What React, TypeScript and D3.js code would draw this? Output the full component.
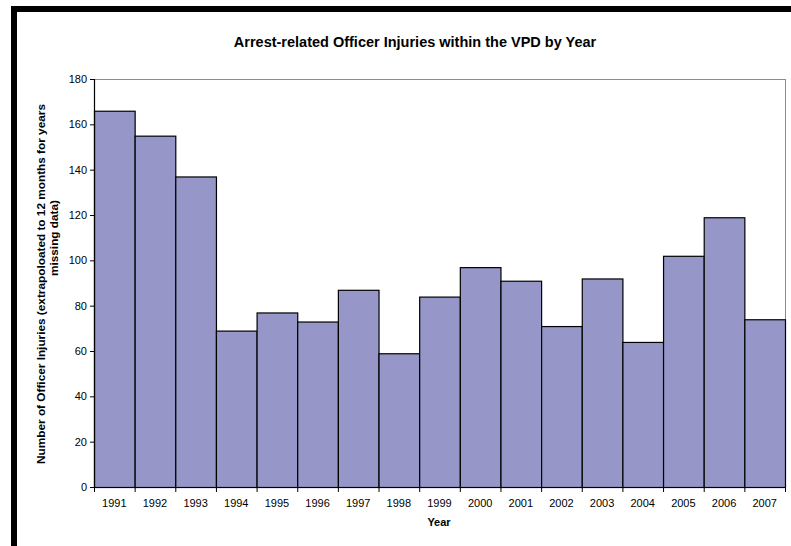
import React from "react";
import * as d3 from "d3";

const years: string[] = ["1991","1992","1993","1994","1995","1996","1997","1998","1999","2000","2001","2002","2003","2004","2005","2006","2007"];
const injuries: number[] = [166,155,137,69,77,73,87,59,84,97,91,71,92,64,102,119,74];
const yTicks: number[] = [0,20,40,60,80,100,120,140,160,180];

const W = 791, H = 546;
const M = { left: 94, right: 785, top: 79, bottom: 487 };
const FONT = "'Liberation Sans', Arial, sans-serif";

export default function App() {
  const x = d3.scaleBand<string>().domain(years).range([M.left, M.right]).padding(0);
  const y = d3.scaleLinear().domain([0, 180]).range([M.bottom, M.top]);
  const bw = x.bandwidth();
  const boundaries = years.map((yr) => x(yr) as number).concat([M.right]);

  return (
    <svg width={W} height={H} style={{ position: "absolute", left: 0, top: 0, display: "block", background: "#fff" }}>
      {/* outer black frame (top and left only) */}
      <rect x={11} y={6} width={W - 11} height={6} fill="#000" />
      <rect x={11} y={6} width={6} height={H - 6} fill="#000" />

      <text x={415} y={47} textAnchor="middle" fontFamily={FONT} fontWeight="bold" fontSize={14.5} fill="#000">
        Arrest-related Officer Injuries within the VPD by Year
      </text>

      {/* plot frame top/right */}
      <line x1={M.left} x2={M.right} y1={M.top + 0.5} y2={M.top + 0.5} stroke="#8c8c8c" strokeWidth={1} />
      <line x1={M.right + 0.5} x2={M.right + 0.5} y1={M.top} y2={M.bottom} stroke="#8c8c8c" strokeWidth={1} />

      {/* bars */}
      {years.map((yr, i) => (
        <rect
          key={yr}
          x={(x(yr) as number) + 0.5}
          y={y(injuries[i]) + 0.5}
          width={bw}
          height={M.bottom - y(injuries[i])}
          fill="#9696C8"
          stroke="#000"
          strokeWidth={1.2}
        />
      ))}

      {/* y axis */}
      <line x1={M.left + 0.5} x2={M.left + 0.5} y1={M.top} y2={M.bottom} stroke="#000" strokeWidth={1.2} />
      {yTicks.map((t) => (
        <g key={t}>
          <line x1={M.left - 4} x2={M.left} y1={y(t) + 0.5} y2={y(t) + 0.5} stroke="#000" />
          <text x={M.left - 7} y={y(t) + 4} textAnchor="end" fontFamily={FONT} fontSize={11} fill="#000">
            {t}
          </text>
        </g>
      ))}

      {/* x axis */}
      <line x1={M.left} x2={M.right + 1} y1={M.bottom + 0.5} y2={M.bottom + 0.5} stroke="#000" strokeWidth={1.2} />
      {boundaries.map((bx, i) => (
        <line key={i} x1={bx + 0.5} x2={bx + 0.5} y1={M.bottom} y2={M.bottom + 5} stroke="#000" />
      ))}
      {years.map((yr) => (
        <text key={yr} x={(x(yr) as number) + bw / 2} y={507} textAnchor="middle" fontFamily={FONT} fontSize={11} fill="#000">
          {yr}
        </text>
      ))}

      <text x={439} y={526} textAnchor="middle" fontFamily={FONT} fontWeight="bold" fontSize={11} fill="#000">
        Year
      </text>

      <text transform="translate(45,284) rotate(-90)" textAnchor="middle" fontFamily={FONT} fontWeight="bold" fontSize={11.8} fill="#000">
        Number of Officer Injuries (extrapoloated to 12 months for years
      </text>
      <text transform="translate(58,238) rotate(-90)" textAnchor="middle" fontFamily={FONT} fontWeight="bold" fontSize={11.8} fill="#000">
        missing data)
      </text>
    </svg>
  );
}
